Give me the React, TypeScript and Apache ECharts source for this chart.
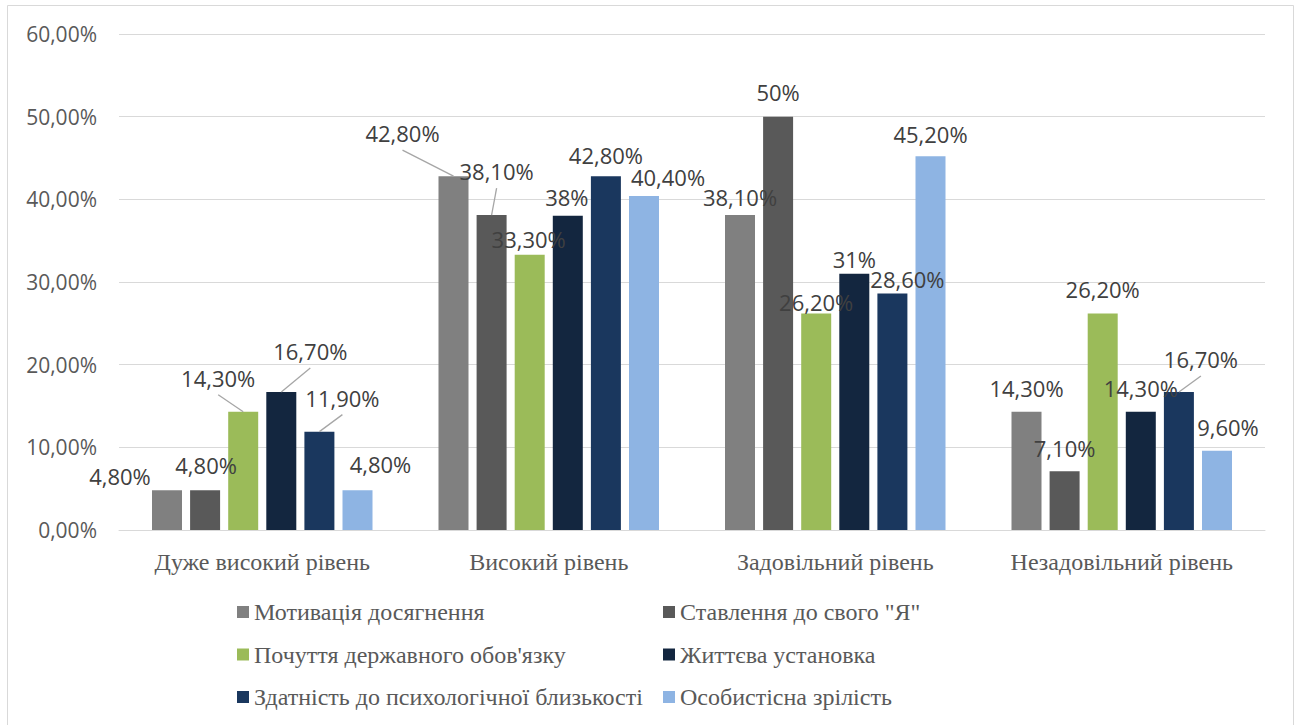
import React, { useEffect, useRef } from "react";
import * as echarts from "echarts";

// Categories (levels) and the six indicators, values in percent
const categories = [
  "Дуже високий рівень",
  "Високий рівень",
  "Задовільний рівень",
  "Незадовільний рівень",
];

const seriesNames = [
  "Мотивація досягнення",
  "Ставлення до свого \"Я\"",
  "Почуття державного обов'язку",
  "Життєва установка",
  "Здатність до психологічної близькості",
  "Особистісна зрілість",
];

const motivation = [4.8, 42.8, 38.1, 14.3];
const selfAttitude = [4.8, 38.1, 50, 7.1];
const civicDuty = [14.3, 33.3, 26.2, 26.2];
const lifeAttitude = [16.7, 38, 31, 14.3];
const closeness = [11.9, 42.8, 28.6, 16.7];
const maturity = [4.8, 40.4, 45.2, 9.6];

const seriesValues = [motivation, selfAttitude, civicDuty, lifeAttitude, closeness, maturity];

const yTicks = { min: 0, max: 60, interval: 10 };

// Styling: colours, label nudges [dx, dy] and which labels get a leader line
const colors = ["#808080", "#595959", "#9BBB59", "#13263F", "#1A375E", "#8EB4E3"];

const labelOffsets: number[][][] = [
  [[-47, 8], [-51, -21], [0, 4], [0, -2]],
  [[1, -3], [5, -22], [0, -3], [0, -1]],
  [[-25, -12], [-1, 6], [0, 11], [0, -2]],
  [[29, -19], [-1, 3], [0, 7], [0, -2]],
  [[23, -12], [0, 1], [15, 7], [22, -11]],
  [[23, -4], [24, 3], [0, 0], [11, -2]],
];

const leaderLines: boolean[][] = [
  [false, true, false, false],
  [false, true, false, false],
  [true, false, false, false],
  [true, false, false, false],
  [true, false, false, true],
  [false, false, false, false],
];

const BAR_WIDTH = 30;
const BAR_GAP = 0.27;
const LABEL_DISTANCE = 11;
const LABEL_SIZE = 22;

const SANS = "'Open Sans', 'Noto Sans', sans-serif";
const SERIF = "'Liberation Serif', 'DejaVu Serif', serif";

function formatPercent(v: number): string {
  if (Number.isInteger(v)) return `${v}%`;
  return `${v.toFixed(2).replace(".", ",")}%`;
}

export default function App() {
  const ref = useRef<HTMLDivElement>(null);

  useEffect(() => {
    if (!ref.current) return;
    const chart = echarts.init(ref.current, undefined, { renderer: "svg" });

    const barSeries = seriesNames.map((name, si) => ({
      name,
      type: "bar",
      barWidth: BAR_WIDTH,
      barGap: `${BAR_GAP * 100}%`,
      itemStyle: { color: colors[si] },
      label: {
        show: true,
        position: "top",
        distance: LABEL_DISTANCE,
        fontFamily: SANS,
        fontSize: LABEL_SIZE,
        lineHeight: LABEL_SIZE,
        color: "#404040",
        formatter: (p: any) => formatPercent(p.value),
      },
      data: seriesValues[si].map((v, ci) => ({
        value: v,
        label: { offset: labelOffsets[si][ci] },
      })),
    }));

    // Leader lines joining moved labels to the top of their bars
    const leaderData: number[][] = [];
    seriesValues.forEach((vals, si) =>
      vals.forEach((v, ci) => {
        if (leaderLines[si][ci]) leaderData.push([ci, v, si]);
      })
    );
    const step = BAR_WIDTH * (1 + BAR_GAP);
    const nSeries = seriesNames.length;

    const leaderSeries = {
      type: "custom",
      name: "leaders",
      silent: true,
      z: 5,
      encode: { x: 0, y: 1 },
      data: leaderData,
      renderItem: (_params: any, api: any) => {
        const ci = api.value(0);
        const v = api.value(1);
        const si = api.value(2);
        const top = api.coord([ci, v]);
        const barX = top[0] + (si - (nSeries - 1) / 2) * step;
        const [dx, dy] = labelOffsets[si][ci];
        const labelCy = top[1] - LABEL_DISTANCE - LABEL_SIZE / 2 + dy;
        return {
          type: "line",
          shape: { x1: barX + dx, y1: labelCy + 17, x2: barX, y2: top[1] },
          style: { stroke: "#A6A6A6", lineWidth: 1.3 },
        };
      },
    };

    const legendBase = {
      orient: "vertical",
      top: 600,
      padding: 0,
      itemWidth: 12,
      itemHeight: 12,
      itemGap: 18.5,
      icon: "rect",
      textStyle: {
        fontFamily: SERIF,
        fontSize: 24,
        lineHeight: 24,
        color: "#595959",
      },
    };

    chart.setOption({
      animation: false,
      backgroundColor: "#ffffff",
      grid: { left: 119, right: 36, top: 34, bottom: 195, containLabel: false },
      xAxis: {
        type: "category",
        data: categories,
        axisTick: { show: false },
        axisLine: { lineStyle: { color: "#D9D9D9", width: 1 } },
        axisLabel: {
          interval: 0,
          fontFamily: SERIF,
          fontSize: 24,
          color: "#595959",
          margin: 20,
        },
      },
      yAxis: {
        type: "value",
        min: yTicks.min,
        max: yTicks.max,
        interval: yTicks.interval,
        axisLine: { show: false },
        axisTick: { show: false },
        splitLine: { lineStyle: { color: "#D9D9D9", width: 1 } },
        axisLabel: {
          fontFamily: SANS,
          fontSize: 21,
          color: "#595959",
          margin: 22,
          formatter: (v: number) => `${v.toFixed(2).replace(".", ",")}%`,
        },
      },
      legend: [
        { ...legendBase, left: 237, data: [seriesNames[0], seriesNames[2], seriesNames[4]] },
        { ...legendBase, left: 663, data: [seriesNames[1], seriesNames[3], seriesNames[5]] },
      ],
      graphic: [
        {
          type: "rect",
          shape: { x: 7.5, y: 5.5, width: 1286, height: 740 },
          style: { fill: "none", stroke: "#D9D9D9", lineWidth: 1 },
          silent: true,
        },
      ],
      series: [...barSeries, leaderSeries],
    });

    return () => chart.dispose();
  }, []);

  return (
    <div
      ref={ref}
      style={{ position: "fixed", left: 0, top: 0, width: 1301, height: 725 }}
    />
  );
}
